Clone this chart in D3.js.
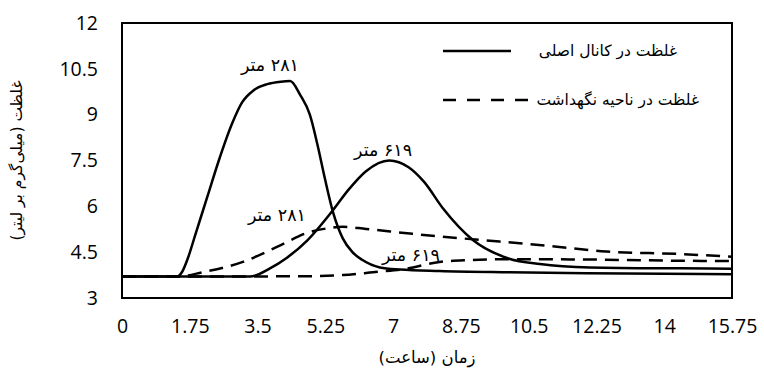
<!DOCTYPE html>
<html>
<head>
<meta charset="utf-8">
<script src="https://cdn.jsdelivr.net/npm/d3@7"></script>
<style>
  html, body { margin: 0; padding: 0; background: #fff; }
  svg { display: block; }
</style>
</head>
<body>
<svg id="chart" width="764" height="379"></svg>
<script>
// Time axis ticks (hours) and concentration ticks (mg/L)
const xTicks = [0, 1.75, 3.5, 5.25, 7, 8.75, 10.5, 12.25, 14, 15.75];
const yTicks = [3, 4.5, 6, 7.5, 9, 10.5, 12];

// Main channel, 281 m
const tCanal281 = [0, 1.42, 1.55, 1.7, 1.9, 2.2, 2.5, 2.84, 3.1, 3.4, 3.75, 4.1, 4.34, 4.6, 4.85, 5.05, 5.24, 5.45, 5.7, 5.95, 6.2, 6.66, 7.18, 8.2, 10, 12, 14, 15.75];
const cCanal281 = [3.7, 3.7, 3.85, 4.3, 5.1, 6.3, 7.5, 8.7, 9.4, 9.8, 10.0, 10.08, 10.1, 9.65, 9.0, 8.0, 6.9, 5.8, 4.95, 4.5, 4.25, 4.0, 3.93, 3.88, 3.84, 3.81, 3.79, 3.78];

// Main channel, 619 m
const tCanal619 = [0, 3.3, 3.82, 4.26, 4.78, 5.45, 5.84, 6.3, 6.9, 7.4, 7.8, 8.29, 9.06, 9.94, 10.79, 12.08, 14.4, 15.75];
const cCanal619 = [3.7, 3.7, 3.97, 4.32, 4.88, 5.88, 6.53, 7.15, 7.5, 7.28, 6.8, 5.93, 4.9, 4.31, 4.11, 4.0, 3.97, 3.96];

// Storage zone, 281 m
const tStore281 = [0, 1.45, 2.1, 3.12, 4.0, 4.85, 5.3, 5.7, 6.3, 7.5, 8.7, 11, 12.5, 14.4, 15.75];
const cStore281 = [3.7, 3.7, 3.85, 4.18, 4.67, 5.16, 5.28, 5.33, 5.26, 5.1, 4.96, 4.71, 4.52, 4.44, 4.35];

// Storage zone, 619 m
const tStore619 = [0, 4.5, 5.7, 6.6, 7.25, 8.2, 9, 10, 12, 14.4, 15.75];
const cStore619 = [3.7, 3.71, 3.75, 3.86, 3.94, 4.18, 4.24, 4.27, 4.26, 4.22, 4.21];

const legendLabels = ["غلظت در کانال اصلی", "غلظت در ناحیه نگهداشت"];
const curveLabels = ["۲۸۱ متر", "۶۱۹ متر", "۲۸۱ متر", "۶۱۹ متر"];
const xTitle = "زمان (ساعت)";
const yTitle = "غلظت (میلی‌گرم بر لیتر)";

const numFont = "'Open Sans', 'DejaVu Sans', sans-serif";
const faFont = "'DejaVu Sans', sans-serif";

const svg = d3.select("#chart");
const margin = { left: 122, right: 32, top: 23, bottom: 81 };
const W = 764, H = 379;
const x = d3.scaleLinear().domain([0, 15.75]).range([margin.left, W - margin.right]);
const y = d3.scaleLinear().domain([3, 12]).range([H - margin.bottom, margin.top]);

// Plot frame
svg.append("rect")
  .attr("x", x(0)).attr("y", y(12))
  .attr("width", x(15.75) - x(0)).attr("height", y(3) - y(12))
  .attr("fill", "none").attr("stroke", "#000").attr("stroke-width", 2);

// Axes (labels only, the frame is drawn above)
const xAxis = svg.append("g")
  .attr("transform", `translate(0,${y(3)})`)
  .call(d3.axisBottom(x).tickValues(xTicks).tickSize(0).tickPadding(21).tickFormat(d => String(d)));
const yAxis = svg.append("g")
  .attr("transform", `translate(${x(0)},0)`)
  .call(d3.axisLeft(y).tickValues(yTicks).tickSize(0).tickPadding(24).tickFormat(d => String(d)));
[xAxis, yAxis].forEach(g => {
  g.select(".domain").remove();
  g.selectAll("text").attr("font-family", numFont).attr("font-size", 19.5).attr("fill", "#000");
});

const line = d3.line().x(d => x(d[0])).y(d => y(d[1])).curve(d3.curveMonotoneX);
const zip = (t, c) => t.map((v, i) => [v, c[i]]);

const series = [
  { pts: zip(tStore281, cStore281), dash: "14,8" },
  { pts: zip(tStore619, cStore619), dash: "14,8" },
  { pts: zip(tCanal281, cCanal281), dash: null },
  { pts: zip(tCanal619, cCanal619), dash: null }
];
series.forEach(s => {
  svg.append("path")
    .attr("d", line(s.pts))
    .attr("fill", "none")
    .attr("stroke", "#000")
    .attr("stroke-width", 2.5)
    .attr("stroke-dasharray", s.dash)
    .attr("stroke-linejoin", "round");
});

// Distance labels beside each curve
const labelPos = [[3.82, 10.62], [6.74, 7.84], [4.0, 5.72], [7.46, 4.41]];
curveLabels.forEach((txt, i) => {
  svg.append("text")
    .attr("x", x(labelPos[i][0])).attr("y", y(labelPos[i][1]))
    .attr("text-anchor", "middle").attr("dominant-baseline", "central")
    .attr("direction", "rtl")
    .attr("font-family", faFont).attr("font-size", 17.5)
    .text(txt);
});

// Legend: sample line on the left, label right-aligned after it
const legend = svg.append("g");
const legendItems = [
  { label: legendLabels[0], dash: null, y: 51, x1: 443, x2: 511, tx: 677 },
  { label: legendLabels[1], dash: "13,11", y: 100, x1: 443, x2: 531, tx: 699 }
];
legendItems.forEach(it => {
  legend.append("line")
    .attr("x1", it.x1).attr("x2", it.x2).attr("y1", it.y).attr("y2", it.y)
    .attr("stroke", "#000").attr("stroke-width", 2.5)
    .attr("stroke-dasharray", it.dash);
  legend.append("text")
    .attr("x", it.tx).attr("y", it.y)
    .attr("text-anchor", "start").attr("dominant-baseline", "central")
    .attr("direction", "rtl")
    .attr("font-family", faFont).attr("font-size", 15.5)
    .text(it.label);
});

// Axis titles
svg.append("text")
  .attr("x", (x(0) + x(15.75)) / 2).attr("y", 357)
  .attr("text-anchor", "middle").attr("dominant-baseline", "central")
  .attr("direction", "rtl")
  .attr("font-family", faFont).attr("font-size", 16.5)
  .text(xTitle);
svg.append("text")
  .attr("transform", `translate(17,${(y(3) + y(12)) / 2}) rotate(-90)`)
  .attr("text-anchor", "middle").attr("dominant-baseline", "central")
  .attr("direction", "rtl")
  .attr("font-family", faFont).attr("font-size", 15.5)
  .text(yTitle);
</script>
</body>
</html>
